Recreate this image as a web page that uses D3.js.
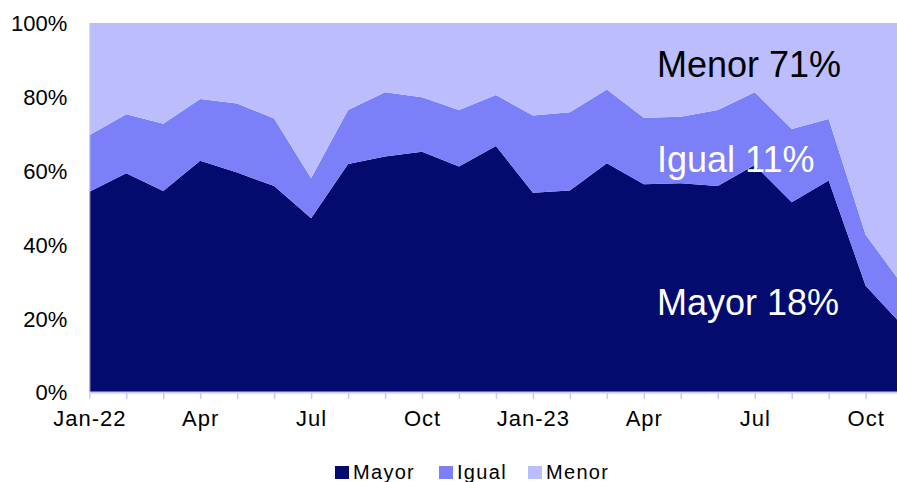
<!DOCTYPE html>
<html>
<head>
<meta charset="utf-8">
<script src="https://cdn.jsdelivr.net/npm/d3@7"></script>
<style>
  html, body { margin: 0; padding: 0; background: #fff; }
  svg { display: block; font-family: "Liberation Sans", Arial, sans-serif; }
</style>
</head>
<body>
<div id="chart"></div>
<script>
// Monthly share of answers (%), Jan-22 .. Nov-23
const months = ["Jan-22","Feb-22","Mar-22","Apr-22","May-22","Jun-22","Jul-22","Aug-22","Sep-22","Oct-22","Nov-22","Dec-22",
                "Jan-23","Feb-23","Mar-23","Apr-23","May-23","Jun-23","Jul-23","Aug-23","Sep-23","Oct-23","Nov-23"];
const tickLabels = {"Jan-22": "Jan-22", "Apr-22": "Apr", "Jul-22": "Jul", "Oct-22": "Oct",
                    "Jan-23": "Jan-23", "Apr-23": "Apr", "Jul-23": "Jul", "Oct-23": "Oct"};
const mayor = [54.3, 59.3, 54.5, 62.7, 59.5, 55.8, 47.1, 61.8, 63.8, 65.1, 61.1, 66.7,
               54.0, 54.6, 62.0, 56.3, 56.6, 55.8, 61.5, 51.4, 57.3, 28.8, 18];
const igual = [15.3, 16.0, 18.2, 16.7, 18.7, 18.3, 10.8, 14.6, 17.4, 14.8, 15.3, 13.8,
               20.9, 21.2, 20.0, 18.0, 18.0, 20.6, 19.7, 19.9, 16.7, 13.8, 11];
const menor = mayor.map((m, i) => 100 - m - igual[i]);
const seriesNames = ["Mayor", "Igual", "Menor"];
const colors = ["#030b6f", "#7b80f8", "#bbbdfd"];
const yTicks = [0, 20, 40, 60, 80, 100];

const width = 897, height = 482;
const svg = d3.select("#chart").append("svg")
    .attr("width", width)
    .attr("height", height);

const rows = months.map((m, i) => ({ month: m, Mayor: mayor[i], Igual: igual[i], Menor: menor[i] }));
const stacked = d3.stack().keys(seriesNames)(rows);

// Scales (last month sits just past the right edge)
const x = d3.scalePoint().domain(months).range([89.3, 902.6]);
const y = d3.scaleLinear().domain([0, 100]).range([392, 23]);

const area = d3.area()
    .x(d => x(d.data.month))
    .y0(d => y(d[0]))
    .y1(d => y(d[1]));

svg.append("g")
    .selectAll("path")
    .data(stacked)
    .join("path")
    .attr("fill", (d, i) => colors[i])
    .attr("d", area);

// Axes
const xAxis = svg.append("g")
    .attr("transform", "translate(0,392)")
    .call(d3.axisBottom(x).tickSize(7).tickSizeOuter(0).tickPadding(11)
        .tickFormat(d => tickLabels[d] || ""));
xAxis.select(".domain").attr("stroke", "#c8caf8").attr("stroke-width", 2);
xAxis.selectAll(".tick line").attr("stroke", "#c8caf8").attr("stroke-width", 1.5);
xAxis.selectAll(".tick text")
    .attr("fill", "#000")
    .attr("font-size", "22px")
    .attr("letter-spacing", "1px")
    .attr("font-family", "Liberation Sans, Arial, sans-serif");

const yAxis = svg.append("g")
    .attr("transform", "translate(89.3,0)")
    .call(d3.axisLeft(y).tickValues(yTicks).tickSize(0).tickPadding(22)
        .tickFormat(d => d + "%"));
yAxis.select(".domain").attr("stroke", "#d6d8fa").attr("stroke-width", 1);
yAxis.selectAll(".tick text")
    .attr("fill", "#000")
    .attr("font-size", "22px")
    .attr("dy", "0.36em")
    .attr("font-family", "Liberation Sans, Arial, sans-serif");

// Inline labels for the last month
const last = months.length - 1;
const labels = [
    { text: "Menor " + Math.round(menor[last]) + "%", y: 77, fill: "#000" },
    { text: "Igual " + igual[last] + "%", y: 172, fill: "#fff" },
    { text: "Mayor " + mayor[last] + "%", y: 315, fill: "#fff" }
];
svg.append("g")
    .selectAll("text")
    .data(labels)
    .join("text")
    .attr("x", 657)
    .attr("y", d => d.y)
    .attr("fill", d => d.fill)
    .attr("font-size", "36px")
    .text(d => d.text);

// Legend
const legendX = [335, 439, 528];
const legend = svg.append("g");
seriesNames.forEach((name, i) => {
    legend.append("rect")
        .attr("x", legendX[i])
        .attr("y", 466)
        .attr("width", 14)
        .attr("height", 13)
        .attr("fill", colors[i]);
    legend.append("text")
        .attr("x", legendX[i] + 18)
        .attr("y", 479)
        .attr("font-size", "20px")
        .attr("letter-spacing", "1.3px")
        .attr("fill", "#000")
        .text(name);
});
</script>
</body>
</html>
